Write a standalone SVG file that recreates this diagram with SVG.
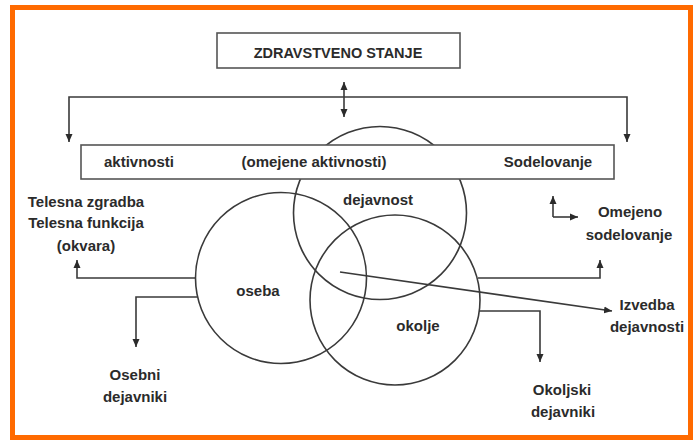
<svg xmlns="http://www.w3.org/2000/svg" width="698" height="442" viewBox="0 0 698 442">
  <defs>
    <marker id="arr" markerUnits="userSpaceOnUse" markerWidth="9" markerHeight="8" refX="8" refY="4" orient="auto">
      <path d="M0,0.5 L8,4 L0,7.5 z" fill="#2b2b2b"/>
    </marker>
    <style>
      .box { fill: #ffffff; stroke: #555555; stroke-width: 1.6; }
      .circ { fill: none; stroke: #3a3a3a; stroke-width: 1.6; }
      .conn { fill: none; stroke: #3a3a3a; stroke-width: 1.6; marker-end: url(#arr); }
      .t { font-family: "Liberation Sans", Arial, sans-serif; font-size: 15px; font-weight: bold; fill: #2b2b2b; text-anchor: middle; }
      .title { font-size: 14.5px; }
    </style>
  </defs>
  <rect x="0" y="0" width="698" height="442" fill="#ffffff"/>
  <rect id="frame" x="12.5" y="7.5" width="678" height="430" fill="#ffffff" stroke="#FF6A00" stroke-width="5"/>

  <g id="node-dejavnost">
    <circle class="circ" cx="380" cy="213" r="86.5"/>
    <text class="t" x="378" y="205">dejavnost</text>
  </g>
  <g id="node-oseba">
    <circle class="circ" cx="281" cy="278" r="85.5"/>
    <text class="t" x="258" y="296">oseba</text>
  </g>
  <g id="node-okolje">
    <circle class="circ" cx="395" cy="300" r="85"/>
    <text class="t" x="418" y="331">okolje</text>
  </g>

  <g id="connectors">
    <path class="conn" d="M344,97 V82"/>
    <path class="conn" d="M344,97 V117"/>
    <path class="conn" d="M344,97 H69 V142"/>
    <path class="conn" d="M344,97 H627 V142"/>
    <path class="conn" d="M195.5,278 H77 V260"/>
    <path class="conn" d="M197.5,297 H136 V347"/>
    <path class="conn" d="M478,278 H600 V260"/>
    <path class="conn" d="M479,311 H540 V362"/>
    <path class="conn" d="M340,272 L612,311"/>
    <path class="conn" d="M553,217 V196"/>
    <path class="conn" d="M553,217 H578"/>
  </g>

  <g id="node-zdravstveno-stanje">
    <rect class="box" x="217" y="33" width="243" height="35"/>
    <text class="t title" x="338" y="58">ZDRAVSTVENO STANJE</text>
  </g>
  <g id="node-aktivnosti-sodelovanje">
    <rect class="box" x="81" y="145" width="533" height="34"/>
    <text class="t" x="139" y="167">aktivnosti</text>
    <text class="t" x="314" y="167">(omejene aktivnosti)</text>
    <text class="t" x="548" y="167">Sodelovanje</text>
  </g>
  <g id="node-telesna">
    <text class="t" x="86" y="207">Telesna zgradba</text>
    <text class="t" x="86" y="228">Telesna funkcija</text>
    <text class="t" x="86" y="251">(okvara)</text>
  </g>
  <g id="node-omejeno-sodelovanje">
    <text class="t" x="630" y="217">Omejeno</text>
    <text class="t" x="629" y="240">sodelovanje</text>
  </g>
  <g id="node-izvedba">
    <text class="t" x="647" y="310">Izvedba</text>
    <text class="t" x="647" y="332">dejavnosti</text>
  </g>
  <g id="node-osebni">
    <text class="t" x="135" y="380">Osebni</text>
    <text class="t" x="135" y="402">dejavniki</text>
  </g>
  <g id="node-okoljski">
    <text class="t" x="562" y="395">Okoljski</text>
    <text class="t" x="563" y="417">dejavniki</text>
  </g>
</svg>
